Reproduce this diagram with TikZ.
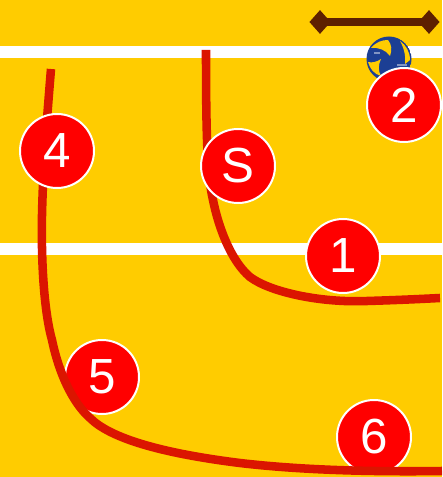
\documentclass[tikz,border=0pt]{standalone}
\usepackage{fontspec}
\setmainfont{Liberation Sans}
\usetikzlibrary{shapes.geometric}
\definecolor{vbcourt}{HTML}{FFCC00}
\definecolor{vbred}{HTML}{FF0000}
\definecolor{vbpath}{HTML}{DB1500}
\definecolor{vbnet}{HTML}{5E2000}
\definecolor{vbblue}{HTML}{1C3F94}
\tikzset{
  vbplayer/.style={
    circle, draw=white, fill=vbred, line width=1.5pt, minimum size=55.5pt,
    inner sep=0pt, text=white, font=\fontsize{37}{40}\selectfont},
  vbline/.style={fill=white, draw=none},
  vbrun/.style={draw=vbpath, line width=6.4pt},
  vbpost/.style={diamond, fill=vbnet, minimum width=16pt, minimum height=18pt,
    aspect=0.9, inner sep=0pt},
}

\begin{document}
\begin{tikzpicture}[x=0.75pt, y=-0.75pt]
\useasboundingbox (0, 0) rectangle (442, 477);

% Court.
\fill[vbcourt] (0, 0) rectangle (442, 477);
\fill[vbline] (0, 46) rectangle (442, 58);
\fill[vbline] (0, 243) rectangle (442, 255);

% Net.
\node[vbpost] (postl) at (320, 22) {};
\node[vbpost] (postr) at (429, 22) {};
\draw[vbnet, line width=6.6pt] (postl.center) -- (postr.center);

% Ball.
\begin{scope}
  \clip (389, 59) circle (22.5);
  \fill[vbblue] (389, 59) circle (22.5);
  \fill[vbcourt] (371, 48) .. controls (376, 42) and (382, 40) .. (388, 40)
    .. controls (392, 45) and (392, 50) .. (390, 56)
    .. controls (386, 50) and (378, 47) .. (371, 48) -- cycle;
  \fill[vbcourt] (400, 41) .. controls (406, 45) and (410, 52) .. (410, 60)
    -- (405, 64) .. controls (406, 56) and (404, 48) .. (400, 41) -- cycle;
  \fill[vbcourt] (368, 62) .. controls (372, 63) and (377, 62) .. (381, 59)
    .. controls (378, 65) and (378, 71) .. (381, 76)
    .. controls (374, 74) and (370, 69) .. (368, 62) -- cycle;
  \fill[white!45!vbblue] (374, 52) rectangle (380, 54);
  \fill[white!45!vbblue] (397, 64) rectangle (407, 66);
\end{scope}

% Players under the long run.
\node[vbplayer] (p5) at (102, 377) {5};
\node[vbplayer] (p6) at (374, 437) {6};

% Runs.
\draw[vbrun] (51, 69) .. controls (46, 130) and (43, 170) .. (42, 215)
  .. controls (41, 270) and (45, 315) .. (52, 340)
  .. controls (60, 378) and (75, 405) .. (90, 418)
  .. controls (110, 438) and (160, 453) .. (240, 463)
  .. controls (300, 470) and (370, 472) .. (442, 471);
\draw[vbrun] (206, 50) .. controls (206, 130) and (207, 175) .. (213, 200)
  .. controls (218, 225) and (230, 260) .. (250, 277)
  .. controls (270, 292) and (320, 303) .. (367, 301)
  .. controls (400, 300) and (420, 299) .. (440, 298);

% Players over the runs.
\node[vbplayer] (ps) at (238, 166) {S};
\node[vbplayer] (p1) at (343, 256) {1};
\node[vbplayer] (p2) at (404, 105) {2};
\node[vbplayer] (p4) at (57, 151) {4};

\end{tikzpicture}
\end{document}
